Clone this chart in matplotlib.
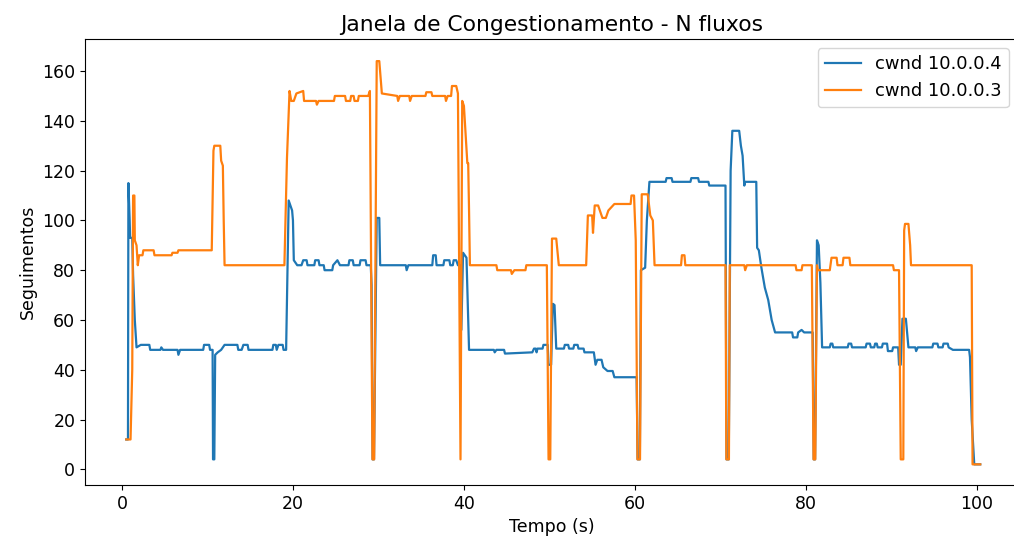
import matplotlib
matplotlib.use("Agg")
import matplotlib.pyplot as plt

# cwnd 10.0.0.4 (blue)
t_blue = [0.5, 0.7, 0.75, 0.9, 0.95, 1.2, 1.3, 1.5, 1.7, 2.2, 3.2, 3.3, 4.5, 4.6, 4.8, 6.5, 6.6, 6.8,
          9.5, 9.6, 10.2, 10.3, 10.6, 10.65, 10.8, 10.9, 11.2, 11.6, 12.0, 13.5, 13.6, 14.0, 14.2, 14.7,
          14.8, 17.6, 17.7, 18.0, 18.1, 18.3, 18.8, 18.9, 19.2, 19.5, 19.9, 20.0, 20.1, 20.5, 21.0, 21.2,
          21.6, 21.7, 22.5, 22.6, 23.0, 23.1, 23.6, 23.7, 24.6, 24.7, 25.2, 25.5, 26.5, 26.6, 27.0, 27.1,
          27.8, 27.9, 28.5, 28.6, 29.1, 29.2, 29.32, 29.48, 29.8, 30.1, 30.2, 33.2, 33.3, 33.5, 36.3, 36.4,
          36.7, 36.8, 37.6, 37.7, 38.3, 38.4, 38.7, 38.8, 39.1, 39.3, 39.6, 39.7, 39.9, 40.3, 40.5, 40.6,
          43.5, 43.6, 43.8, 44.7, 44.8, 48.0, 48.2, 48.4, 48.5, 48.6, 49.2, 49.3, 49.8, 49.9, 50.2, 50.4,
          50.6, 50.8, 51.7, 51.8, 52.2, 52.3, 52.8, 52.9, 53.3, 53.4, 54.0, 54.1, 55.2, 55.4, 55.6, 56.1,
          56.3, 56.8, 57.4, 57.6, 60.2, 60.32, 60.58, 60.7, 61.2, 61.4, 61.7, 63.6, 63.7, 64.3, 64.4, 66.5,
          66.6, 67.4, 67.5, 68.6, 68.7, 70.6, 70.72, 70.98, 71.2, 71.4, 72.2, 72.4, 72.6, 72.8, 72.9, 74.2,
          74.3, 74.5, 74.8, 75.2, 75.6, 76.0, 76.4, 78.4, 78.5, 79.0, 79.1, 79.5, 79.8, 80.8, 80.92, 81.08,
          81.3, 81.5, 81.7, 81.9, 82.8, 82.9, 83.1, 83.2, 84.9, 85.0, 85.3, 85.4, 87.0, 87.1, 87.5, 87.6,
          88.0, 88.1, 88.3, 88.4, 88.9, 89.0, 89.5, 89.6, 90.1, 90.2, 90.8, 90.9, 91.1, 91.3, 91.7, 92.0,
          92.8, 92.9, 93.1, 94.8, 94.9, 95.4, 95.5, 96.0, 96.1, 96.6, 96.7, 97.2, 99.1, 99.2, 99.4, 99.6,
          99.7, 100.4]
v_blue = [12, 12, 115, 100, 93, 93, 78, 60, 49, 50, 50, 48, 48, 49, 48, 48, 46, 48,
          48, 50, 50, 48, 48, 4, 4, 46, 47, 48, 50, 50, 48, 48, 50, 50,
          48, 48, 50, 50, 48, 50, 50, 48, 48, 108, 104, 100, 84, 82, 82, 84,
          84, 82, 82, 84, 84, 82, 82, 80, 80, 82, 84, 82, 82, 84, 84, 82,
          82, 84, 84, 82, 82, 74, 4, 4, 101, 101, 82, 82, 80, 82, 82, 86,
          86, 82, 82, 84, 84, 82, 82, 84, 84, 82, 82, 56, 87, 85, 60, 48,
          48, 47, 48, 48, 46.5, 47, 48.5, 48.5, 47, 48.5, 48.5, 50, 50, 42, 42, 66.5,
          66, 48.5, 48.5, 50, 50, 48.5, 48.5, 50, 50, 48.5, 48.5, 47, 47, 42, 44, 44,
          41, 39.5, 39.5, 37, 37, 4, 4, 80, 81, 100, 115.5, 115.5, 117, 117, 115.5, 115.5,
          117, 117, 115.5, 115.5, 114, 114, 4, 4, 120, 136, 136, 130, 126, 114, 115.5, 115.5,
          89, 88, 81, 73, 68, 60, 55, 55, 53, 53, 55, 56, 55, 55, 4, 4,
          92, 90, 75, 49, 49, 50.5, 50.5, 49, 49, 50.5, 50.5, 49, 49, 50.5, 50.5, 49,
          49, 50.5, 50.5, 49, 49, 50.5, 50.5, 47.5, 47.5, 49, 49, 42, 42, 60.5, 60.5, 49,
          49, 47.5, 49, 49, 50.5, 50.5, 49, 49, 50.5, 50.5, 49, 48, 48, 45, 20, 8,
          2, 2]

# cwnd 10.0.0.3 (orange)
t_orange = [0.5, 1.0, 1.2, 1.3, 1.45, 1.5, 1.7, 1.85, 2.0, 2.4, 2.5, 3.7, 3.8, 5.8, 5.9, 6.5, 6.6,
            10.5, 10.7, 10.8, 11.5, 11.6, 11.8, 11.9, 12.0, 19.0, 19.3, 19.6, 19.8, 20.1, 20.4, 21.2,
            21.3, 22.7, 22.8, 23.0, 24.8, 24.9, 26.1, 26.2, 26.7, 26.8, 27.1, 27.2, 27.6, 27.7, 28.8,
            29.0, 29.3, 29.5, 29.8, 30.1, 30.4, 32.2, 32.3, 32.5, 33.6, 33.7, 33.9, 35.5, 35.6, 36.2,
            36.3, 37.8, 37.9, 38.1, 38.5, 38.6, 39.1, 39.3, 39.6, 39.8, 40.0, 40.4, 40.5, 40.6, 40.7,
            43.8, 43.9, 45.5, 45.6, 45.9, 47.2, 47.3, 49.7, 49.9, 50.1, 50.3, 50.8, 51.1, 54.3, 54.5,
            55.0, 55.1, 55.3, 55.7, 56.2, 56.6, 56.9, 57.6, 59.5, 59.6, 59.9, 60.1, 60.3, 60.6, 60.8,
            61.5, 61.8, 62.1, 62.3, 65.4, 65.5, 65.8, 65.9, 70.6, 70.7, 71.0, 71.1, 72.8, 72.9, 73.1,
            78.8, 78.9, 79.5, 79.6, 80.7, 80.9, 81.1, 81.3, 81.4, 82.8, 83.0, 83.6, 83.7, 84.3, 84.4,
            85.1, 85.2, 90.2, 90.3, 90.9, 91.1, 91.4, 91.5, 91.6, 92.0, 92.2, 92.3, 99.4, 99.5, 100.4]
v_orange = [12, 12, 40, 110, 110, 92, 90, 82, 86, 86, 88, 88, 86, 86, 87, 87, 88,
            88, 128, 130, 130, 124, 122, 100, 82, 82, 125, 152, 148, 148, 151, 152,
            148, 148, 146.5, 148, 148, 150, 150, 148, 148, 150, 150, 148, 148, 150, 150,
            152, 4, 4, 164, 164, 151, 150, 148, 150, 150, 148, 150, 150, 151.5, 151.5,
            150, 150, 148, 150, 150, 154, 154, 151, 4, 148, 146, 123, 123, 104, 82,
            82, 80, 80, 78.5, 80, 80, 82, 82, 4, 4, 92.7, 92.7, 82, 82, 102,
            102, 95, 106, 106, 101, 101, 104, 106.6, 106.6, 110, 110, 92, 4, 4, 110.5,
            110.5, 102, 100, 82, 82, 86, 86, 82, 82, 4, 4, 82, 82, 80, 82,
            82, 80, 80, 82, 82, 4, 4, 82, 80, 80, 85, 85, 82, 82, 85,
            85, 82, 82, 80, 80, 4, 4, 96, 98.6, 98.6, 90, 82, 82, 2, 2]

fig = plt.figure(figsize=(10.14, 5.43), dpi=100)
ax = fig.add_axes([0.0838, 0.1068, 0.920, 0.821])

ax.plot(t_blue, v_blue, color="#1f77b4", lw=1.6, label="cwnd 10.0.0.4")
ax.plot(t_orange, v_orange, color="#ff7f0e", lw=1.6, label="cwnd 10.0.0.3")

ax.set_xlim(-4.33, 104.8)
ax.set_ylim(-6.3, 172.8)
ax.set_xticks([0, 20, 40, 60, 80, 100])
ax.set_yticks([0, 20, 40, 60, 80, 100, 120, 140, 160])
ax.tick_params(labelsize=12.5)

ax.set_title("Janela de Congestionamento - N fluxos", fontsize=15.7)
ax.set_xlabel("Tempo (s)", fontsize=12.5)
ax.set_ylabel("Seguimentos", fontsize=12.5)
ax.legend(loc="upper right", fontsize=12.9)

fig.savefig("out.png", dpi=100)
